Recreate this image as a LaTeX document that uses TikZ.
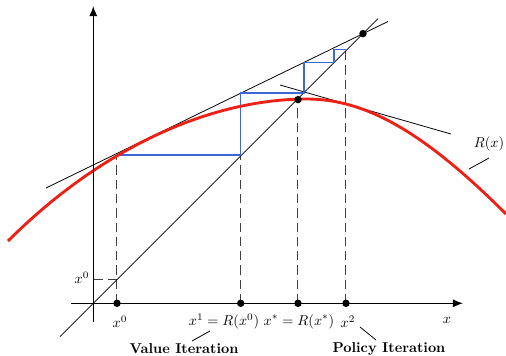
\documentclass[tikz,border=0pt]{standalone}
\usetikzlibrary{arrows.meta}
\definecolor{curvered}{RGB}{236,32,20}
\definecolor{stairblue}{RGB}{62,104,214}
\begin{document}
\begin{tikzpicture}[x=0.7pt,y=-0.7pt,
  axis/.style={line width=0.9pt,-{Latex[length=7pt,width=5.6pt]}},
  thinline/.style={line width=0.55pt},
  dashline/.style={line width=0.7pt,black!75,dash pattern=on 6.5pt off 3.5pt},
  stair/.style={line width=0.8pt,stairblue},
  rcurve/.style={line width=2pt,curvered},
  dot/.style={circle,fill=black,inner sep=0pt,minimum size=5.2pt},
  lbl/.style={inner sep=0pt},
  ptr/.style={line width=0.55pt}]
\useasboundingbox (0,0) rectangle (506,356);

% key coordinates
\coordinate (O) at (93.3,303.3);
\coordinate (xl) at (71,303.3);
\coordinate (xr) at (463,303.3);
\coordinate (yb) at (93.3,322);
\coordinate (yt) at (93.3,6);
\coordinate (dgA) at (60,336.6);
\coordinate (dgB) at (378,18.6);
\coordinate (tuA) at (46,188);
\coordinate (tuB) at (388,21.5);
\coordinate (tlA) at (280,85);
\coordinate (tlB) at (451,134);

\coordinate (c0) at (117,155);
\coordinate (c1) at (240.7,155);
\coordinate (cs) at (298,99.6);
\coordinate (c2) at (346,49.5);
\coordinate (h0) at (117,279.6);
\coordinate (hy) at (93.3,279.6);

% dashed guides
\draw[dashline] (117,303.3) -- (c0);
\draw[dashline] (240.7,303.3) -- (c1);
\draw[dashline] (298,303.3) -- (cs);
\draw[dashline] (346,303.3) -- (c2);
\draw[dashline] (hy) -- (h0);

% diagonal and tangent lines
\draw[thinline] (dgA) -- (dgB);
\draw[thinline] (tuA) -- (tuB);
\draw[thinline] (tlA) -- (tlB);

% staircase
\draw[stair] (c0) -- (c1) -- (240.7,93) -- (304,93) -- (304,62.5)
  -- (334,62.5) -- (334,49.5) -- (c2);

% curve R(x)
\coordinate (rs) at (8,241);
\coordinate (rp) at (307,99);
\coordinate (re) at (506,214);
\draw[rcurve] (rs) .. controls (98,151) and (207,99) .. (rp)
  .. controls (367,99) and (426,134) .. (re);

% axes
\draw[axis] (xl) -- (xr);
\draw[axis] (yb) -- (yt);

% dots
\node[dot] (d0) at (117,303.3) {};
\node[dot] (d1) at (240.7,303.3) {};
\node[dot] (ds) at (298,303.3) {};
\node[dot] (d2) at (346,303.3) {};
\node[dot] (dc) at (cs) {};
\node[dot] (dt) at (363,33.6) {};

% labels
\node[lbl] (l0) at (120,321.5) {$x^0$};
\node[lbl] (l1) at (224,321.5) {$x^1 = R(x^0)$};
\node[lbl] (ls) at (299,321.5) {$x^* = R(x^*)$};
\node[lbl] (l2) at (348,321.5) {$x^2$};
\node[lbl] (lx) at (447,320) {$x$};
\node[lbl] (ly0) at (82,277.5) {$x^0$};
\node[lbl] (lR) at (489,144) {$R(x)$};
\node[lbl] (vi) at (184,349) {\textbf{Value Iteration}};
\node[lbl] (pi) at (389,348.5) {\textbf{Policy Iteration}};

% pointers
\coordinate (pv1) at (192,341);
\coordinate (pv2) at (210,331);
\coordinate (pp1) at (360,327);
\coordinate (pp2) at (376,340);
\coordinate (pr1) at (469,169);
\coordinate (pr2) at (489,158);
\draw[ptr] (pv1) -- (pv2);
\draw[ptr] (pp1) -- (pp2);
\draw[ptr] (pr1) -- (pr2);
\end{tikzpicture}
\end{document}
